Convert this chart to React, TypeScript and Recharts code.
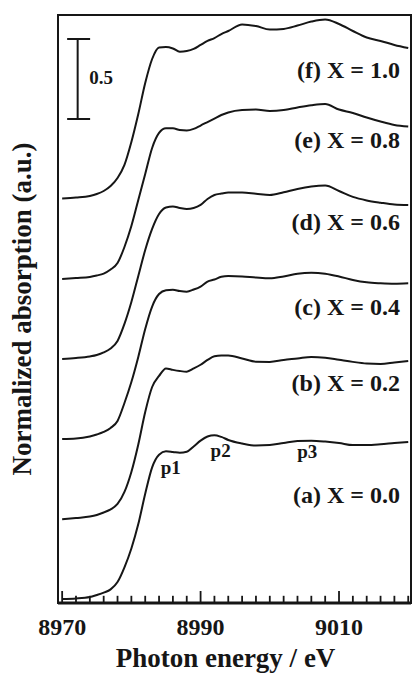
import React from "react";
import {
  LineChart,
  Line,
  XAxis,
  YAxis,
  ReferenceArea,
  ReferenceLine,
  ReferenceDot,
} from "recharts";

// photon energy grid (eV)
const energy = [
  8970, 8972, 8974, 8975, 8976, 8977, 8978, 8979, 8980, 8981, 8982, 8983, 8984,
  8985, 8986, 8987, 8988, 8989, 8990, 8991, 8992, 8993, 8994, 8996, 8998, 9000,
  9002, 9004, 9006, 9008, 9010, 9012, 9014, 9016, 9018, 9020,
];

// normalized absorption, one array per composition
const specA = [
  0.0, 0.003, 0.012, 0.025, 0.04, 0.06, 0.106, 0.198, 0.316, 0.468, 0.658, 0.823,
  0.902, 0.923, 0.919, 0.914, 0.92, 0.953, 0.99, 1.016, 1.024, 1.013, 0.994,
  0.972, 0.959, 0.962, 0.975, 0.987, 0.989, 0.984, 0.975, 0.962, 0.962, 0.967,
  0.975, 0.982,
];
const specB = [
  0.004, 0.012, 0.021, 0.031, 0.047, 0.066, 0.1, 0.175, 0.3, 0.472, 0.675, 0.831,
  0.9, 0.947, 0.938, 0.931, 0.927, 0.947, 0.97, 1.0, 1.023, 1.028, 1.028, 1.009,
  0.989, 0.988, 1.0, 1.009, 1.019, 1.014, 1.001, 0.988, 0.978, 0.975, 0.984,
  0.994,
];
const specC = [
  0.0, 0.003, 0.016, 0.028, 0.044, 0.069, 0.113, 0.225, 0.356, 0.513, 0.688,
  0.828, 0.906, 0.93, 0.933, 0.925, 0.921, 0.934, 0.953, 0.984, 0.997, 1.014,
  1.019, 1.016, 1.009, 1.004, 1.016, 1.033, 1.039, 1.033, 1.016, 0.994, 0.979,
  0.973, 0.97, 0.973,
];
const specD = [
  0.0, 0.006, 0.016, 0.025, 0.041, 0.066, 0.113, 0.219, 0.356, 0.519, 0.681,
  0.813, 0.906, 0.947, 0.953, 0.944, 0.938, 0.944, 0.963, 1.0, 1.025, 1.034,
  1.041, 1.041, 1.033, 1.025, 1.042, 1.063, 1.078, 1.084, 1.05, 1.013, 0.991,
  0.977, 0.966, 0.963,
];
const specE = [
  0.0, 0.006, 0.013, 0.022, 0.034, 0.059, 0.1, 0.2, 0.331, 0.494, 0.656, 0.819,
  0.913, 0.942, 0.942, 0.931, 0.928, 0.938, 0.959, 0.981, 1.003, 1.025, 1.041,
  1.056, 1.059, 1.05, 1.056, 1.072, 1.086, 1.094, 1.059, 1.038, 1.009, 0.984,
  0.963, 0.953,
];
const specF = [
  0.003, 0.009, 0.019, 0.031, 0.05, 0.081, 0.131, 0.213, 0.356, 0.531, 0.725,
  0.875, 0.947, 0.95, 0.941, 0.921, 0.925, 0.938, 0.963, 0.988, 1.006, 1.031,
  1.05, 1.091, 1.081, 1.059, 1.063, 1.084, 1.109, 1.122, 1.094, 1.05, 1.009,
  0.988, 0.963, 0.944,
];

const seriesKeys = ["a", "b", "c", "d", "e", "f"];
const xFraction = ["0.0", "0.2", "0.4", "0.6", "0.8", "1.0"];
const verticalOffset = [0, 0.494, 1.0, 1.5, 2.0, 2.5];
const spectra = [specA, specB, specC, specD, specE, specF];

const xTicks = [
  8970, 8972, 8974, 8976, 8978, 8980, 8982, 8984, 8986, 8988, 8990, 8992, 8994,
  8996, 8998, 9000, 9002, 9004, 9006, 9008, 9010, 9012, 9014, 9016, 9018, 9020,
];
const labelledTicks = [8970, 8990, 9010];

const peakNames = ["p1", "p2", "p3"];
const peakEnergy = [8985.7, 8992.9, 9005.4];
const peakLevel = [0.78, 0.888, 0.881];

// label placement (baseline height in offset units)
const seriesLabelY = [0.6, 1.3, 1.775, 2.306, 2.82, 3.256];
const seriesLabelX = 9018.8;

const xDomain = [8969.4, 9020.4];
const yDomain = [-0.025, 3.65];

// inward tick lengths, in y units (1 unit ~ 160 px)
const minorTickLen = 0.045;
const majorTickLen = 0.075;

const ink = "#161616";
const serif = '"Liberation Serif", "Times New Roman", serif';

const rows = energy.map((e, i) => {
  const row: Record<string, number> = { energy: e };
  seriesKeys.forEach((k, s) => {
    row[k] = spectra[s][i] + verticalOffset[s];
  });
  return row;
});

const EnergyTick = (props: any) => {
  const { x, y, payload } = props;
  if (!labelledTicks.includes(payload.value)) return <g />;
  return (
    <text
      x={x}
      y={y + 32}
      textAnchor="middle"
      fontFamily={serif}
      fontWeight="bold"
      fontSize={24}
      fill={ink}
    >
      {payload.value}
    </text>
  );
};

const XTitle = (props: any) => {
  const vb = props.viewBox;
  return (
    <text
      x={vb.x + vb.width / 2 - 9}
      y={vb.y + 64}
      textAnchor="middle"
      fontFamily={serif}
      fontWeight="bold"
      fontSize={27}
      fill={ink}
    >
      Photon energy / eV
    </text>
  );
};

const YTitle = (props: any) => {
  const vb = props.viewBox;
  const cx = vb.x + 31;
  const cy = vb.y + vb.height / 2;
  return (
    <text
      transform={`translate(${cx},${cy}) rotate(-90)`}
      textAnchor="middle"
      fontFamily={serif}
      fontWeight="bold"
      fontSize={27}
      fill={ink}
    >
      Normalized absorption (a.u.)
    </text>
  );
};

const textShape = (txt: string, size: number, anchor: string) => (p: any) =>
  (
    <text
      x={p.cx}
      y={p.cy}
      textAnchor={anchor}
      fontFamily={serif}
      fontWeight="bold"
      fontSize={size}
      fill={ink}
    >
      {txt}
    </text>
  );

export default function App() {
  return (
    <div style={{ position: "absolute", left: 0, top: 0, background: "#fff" }}>
      <LineChart
        width={414}
        height={673}
        data={rows}
        margin={{ top: 15, right: 3, bottom: 0, left: 0 }}
      >
        <XAxis
          dataKey="energy"
          type="number"
          domain={xDomain}
          allowDataOverflow
          ticks={xTicks}
          interval={0}
          tickSize={0}
          tickMargin={0}
          tickLine={false}
          tick={<EnergyTick />}
          axisLine={{ stroke: ink, strokeWidth: 3 }}
          height={70}
          label={<XTitle />}
        />
        <YAxis
          type="number"
          domain={yDomain}
          allowDataOverflow
          width={58}
          tick={false}
          tickLine={false}
          axisLine={false}
          label={<YTitle />}
        />
        <ReferenceArea
          x1={xDomain[0]}
          x2={xDomain[1]}
          y1={yDomain[0]}
          y2={yDomain[1]}
          fill="none"
          stroke={ink}
          strokeWidth={2}
        />
        {/* inward tick marks along the energy axis */}
        {xTicks.map((t) => (
          <ReferenceLine
            key={"t" + t}
            segment={[
              { x: t, y: yDomain[0] },
              {
                x: t,
                y: yDomain[0] + (labelledTicks.includes(t) ? majorTickLen : minorTickLen),
              },
            ]}
            stroke={ink}
            strokeWidth={1.8}
          />
        ))}
        {seriesKeys.map((k) => (
          <Line
            key={k}
            dataKey={k}
            type="monotone"
            stroke={ink}
            strokeWidth={2}
            dot={false}
            activeDot={false}
            isAnimationActive={false}
          />
        ))}
        {/* 0.5 scale bar */}
        <ReferenceLine
          segment={[
            { x: 8972.24, y: 3.0 },
            { x: 8972.24, y: 3.5 },
          ]}
          stroke={ink}
          strokeWidth={2}
        />
        <ReferenceLine
          segment={[
            { x: 8970.72, y: 3.5 },
            { x: 8974.04, y: 3.5 },
          ]}
          stroke={ink}
          strokeWidth={2}
        />
        <ReferenceLine
          segment={[
            { x: 8970.72, y: 3.0 },
            { x: 8974.04, y: 3.0 },
          ]}
          stroke={ink}
          strokeWidth={2}
        />
        <ReferenceDot x={8973.9} y={3.22} r={1} shape={textShape("0.5", 19, "start")} />
        {seriesKeys.map((k, s) => (
          <ReferenceDot
            key={"lbl" + k}
            x={seriesLabelX}
            y={seriesLabelY[s]}
            r={1}
            shape={textShape(`(${k}) X = ${xFraction[s]}`, 24, "end")}
          />
        ))}
        {peakNames.map((p, i) => (
          <ReferenceDot
            key={p}
            x={peakEnergy[i]}
            y={peakLevel[i]}
            r={1}
            shape={textShape(p, 19, "middle")}
          />
        ))}
      </LineChart>
    </div>
  );
}
